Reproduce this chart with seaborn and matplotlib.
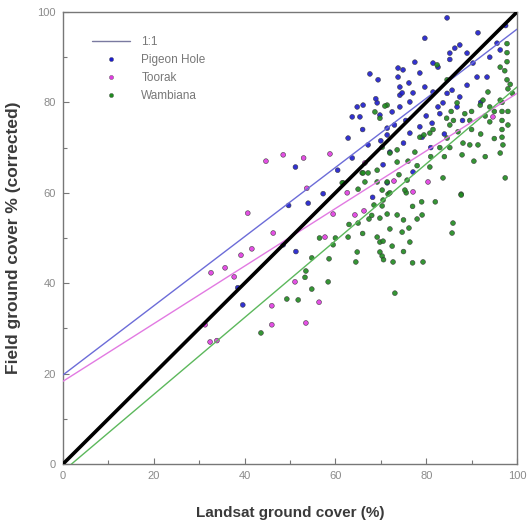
import numpy as np
import pandas as pd
import matplotlib
matplotlib.use("Agg")
import matplotlib.pyplot as plt
import seaborn as sns
from matplotlib.lines import Line2D
from matplotlib.ticker import MultipleLocator

# ---------------- data ----------------
pigeon_x = [39.6, 38.5, 48.5, 51.3, 49.7, 54.0, 57.3, 51.2, 60.5, 63.7, 62.8, 67.2, 63.7, 65.4,
            64.8, 66.1, 69.8, 72.5, 74.2, 69.2, 71.4, 71.4, 70.5, 68.2, 71.4, 67.6, 69.4, 73.8,
            73.8, 74.2, 68.9, 74.2, 84.6, 79.7, 91.4, 87.4, 86.3, 85.2, 85.2, 89.0, 95.6, 96.3,
            77.5, 81.5, 82.6, 74.9, 78.6, 76.2, 79.7, 81.5, 77.1, 74.7, 90.3, 91.2, 93.4, 89.0,
            85.7, 84.6, 87.4, 76.4, 83.7, 76.4, 78.6, 79.1, 81.3, 82.6, 86.8, 83.0, 77.1, 80.0,
            75.5, 73.0, 75.0, 81.0, 84.0, 88.0, 92.0, 97.5, 94.0, 72.0, 66.0, 70.0]
pigeon_y = [35.2, 39.0, 48.5, 47.0, 57.2, 57.7, 59.8, 65.7, 65.0, 67.7, 72.1, 70.6, 76.8, 76.8,
            79.0, 79.4, 77.2, 77.9, 79.0, 79.9, 74.3, 72.8, 66.2, 59.0, 62.2, 86.3, 85.0, 87.6,
            85.6, 83.4, 80.8, 81.6, 98.7, 94.2, 95.4, 92.7, 92.0, 90.9, 89.5, 90.9, 93.1, 91.6,
            88.9, 88.7, 87.8, 87.2, 86.5, 84.3, 83.4, 82.3, 82.1, 82.1, 88.7, 85.6, 85.6, 83.8,
            82.7, 82.0, 81.2, 80.1, 79.9, 73.2, 74.6, 72.3, 75.4, 79.0, 79.0, 77.5, 64.6, 77.0,
            76.0, 75.0, 71.0, 70.0, 73.0, 76.0, 80.0, 97.0, 90.0, 69.0, 74.0, 71.5]

toorak_x = [31.3, 32.4, 33.9, 32.6, 35.7, 37.7, 39.2, 41.6, 40.7, 46.3, 44.7, 48.5, 53.0, 58.8,
            46.0, 46.0, 51.1, 56.4, 53.5, 53.7, 57.7, 59.5, 62.6, 64.3, 66.3, 72.9, 77.1, 80.4,
            94.7, 66.5]
toorak_y = [30.8, 27.0, 27.3, 42.3, 43.4, 41.4, 46.2, 47.6, 55.5, 51.1, 67.0, 68.4, 67.7, 68.6,
            35.0, 30.8, 40.3, 35.8, 31.2, 61.0, 50.2, 55.3, 60.0, 55.1, 56.0, 62.6, 60.2, 62.4,
            76.8, 66.6]

wamb_x = [43.6, 49.3, 51.8, 53.5, 53.3, 54.8, 54.8, 58.6, 58.4, 59.5, 62.8, 64.8, 64.5, 65.0,
          67.4, 69.8, 71.4, 73.6, 69.2, 69.8, 70.5, 69.8, 70.3, 70.6, 72.5, 72.7, 73.1, 74.7,
          76.2, 76.4, 78.0, 79.1, 79.3, 85.9, 85.7, 87.7, 75.6, 71.6, 68.5, 70.3, 65.0, 61.7,
          65.9, 66.1, 67.2, 69.2, 66.5, 69.2, 71.4, 70.3, 72.0, 70.5, 61.5,
          71.4, 70.9, 68.7, 69.8, 70.3, 72.0, 73.6, 73.6, 75.8, 75.3, 77.5, 78.6, 79.5, 80.8,
          81.5, 84.6, 85.2, 88.1, 89.6, 91.4, 87.9, 80.8, 83.7, 87.7, 85.2, 86.0, 84.5, 85.5,
          89.6, 88.5, 91.9, 94.0, 92.5, 93.6, 96.3, 96.7, 96.7, 96.7, 96.7, 96.7, 96.9, 96.3,
          97.4, 82.4, 84.6, 86.8,
          97.8, 97.8, 97.8, 97.3, 97.8, 98.0, 96.3, 98.5, 95.0, 93.0, 90.0, 92.0, 87.0, 83.0,
          81.0, 78.0, 76.0, 74.0, 90.0, 94.0, 95.0, 93.0, 98.0, 98.0, 99.0, 90.5, 84.0, 82.0,
          79.0, 77.0, 75.0, 72.0, 63.0, 60.0, 56.5, 66.0, 68.0, 75.0, 77.0]
wamb_y = [29.0, 36.5, 36.3, 42.7, 41.3, 38.7, 45.6, 45.4, 40.3, 48.5, 50.2, 46.9, 44.7, 53.3,
          54.2, 54.4, 55.3, 55.1, 50.2, 49.1, 49.3, 46.9, 46.0, 45.2, 48.2, 44.7, 37.8, 51.3,
          52.2, 49.1, 54.2, 55.1, 44.7, 53.3, 51.1, 59.7, 60.0, 59.7, 57.3, 57.1, 60.8, 62.2,
          64.4, 64.4, 64.4, 65.0, 62.4, 62.4, 62.4, 60.6, 60.0, 58.4, 62.2,
          79.4, 79.2, 77.9, 76.5, 70.1, 68.8, 69.5, 66.8, 62.8, 60.6, 69.0, 72.3, 72.8, 73.2,
          74.0, 72.1, 70.0, 71.0, 70.6, 70.6, 68.4, 65.7, 63.3, 59.5, 75.0, 76.0, 76.5, 78.0,
          76.0, 77.5, 79.4, 75.7, 80.5, 82.3, 80.5, 80.0, 78.0, 76.0, 74.0, 72.3, 70.6, 68.8,
          63.3, 88.3, 85.0, 79.9,
          93.0, 91.0, 89.0, 87.0, 85.0, 83.0, 87.8, 84.0, 78.0, 77.0, 74.0, 73.0, 73.5, 70.0,
          68.0, 66.0, 67.0, 64.0, 78.0, 79.0, 72.0, 68.0, 75.0, 78.0, 82.0, 67.0, 68.0, 58.0,
          58.0, 57.0, 54.0, 52.0, 53.0, 50.0, 50.0, 51.0, 55.0, 47.0, 44.5]

sites = ["Pigeon Hole", "Toorak", "Wambiana"]
site_colors = ["#1c1ccc", "#e03ce0", "#1f8a1f"]
line_colors = ["#6c6cd8", "#e27ae2", "#5cb85c"]
# fitted lines: intercept, slope
fit_intercept = [19.7, 18.3, -1.6]
fit_slope = [0.765, 0.637, 0.85]
line_x = [0, 100]

xlabel = "Landsat ground cover (%)"
ylabel = "Field ground cover % (corrected)"
ticks = [0, 20, 40, 60, 80, 100]

# ---------------- build ----------------
df = pd.DataFrame({
    "x": pigeon_x + toorak_x + wamb_x,
    "y": pigeon_y + toorak_y + wamb_y,
    "site": ["Pigeon Hole"] * len(pigeon_x) + ["Toorak"] * len(toorak_x) + ["Wambiana"] * len(wamb_x),
})

sns.set_style("white")
plt.rcParams["font.family"] = ["Liberation Sans", "DejaVu Sans"]

fig = plt.figure(figsize=(5.28, 5.23), dpi=100)
ax = fig.add_axes([63 / 528, 1 - 464 / 523, (517 - 63) / 528, (464 - 12) / 523])

sns.scatterplot(data=df, x="x", y="y", hue="site", hue_order=sites,
                palette=dict(zip(sites, site_colors)), s=12, linewidth=0.4,
                edgecolor="#333333", alpha=0.9, legend=False, ax=ax, zorder=2)

for a, b, c in zip(fit_intercept, fit_slope, line_colors):
    xs = np.array(line_x, dtype=float)
    sns.lineplot(x=xs, y=a + b * xs, color=c, lw=1.0, ax=ax, zorder=3)

sns.lineplot(x=np.array(line_x), y=np.array(line_x), color="black", lw=2.6, ax=ax, zorder=4)

ax.set_xlim(0, 100)
ax.set_ylim(0, 100)
ax.set_xticks(ticks)
ax.set_yticks(ticks)
ax.xaxis.set_minor_locator(MultipleLocator(10))
ax.yaxis.set_minor_locator(MultipleLocator(10))
ax.tick_params(which="major", direction="in", length=4, width=0.8, color="#777777",
               labelsize=8, labelcolor="#8a8a8a", pad=5)
ax.tick_params(which="minor", direction="in", length=3, width=0.8, color="#777777")
ax.tick_params(bottom=True, left=True, which="both")
for sp in ax.spines.values():
    sp.set_color("#777777")
    sp.set_linewidth(1.0)

ax.set_xlabel(xlabel, fontsize=11, fontweight="bold", color="#3a3a3a", labelpad=18)
ax.set_ylabel(ylabel, fontsize=12.5, fontweight="bold", color="#3a3a3a", labelpad=12)

handles = [Line2D([], [], color="#7a7aa0", lw=1.0)] + [
    Line2D([], [], ls="none", marker="o", ms=3, color=c, markeredgecolor="#555555", markeredgewidth=0.3)
    for c in site_colors]
labels = ["1:1"] + sites
leg = ax.legend(handles, labels, loc="upper left", bbox_to_anchor=(0.04, 0.97), frameon=False,
                fontsize=8.5, handlelength=3.2, labelspacing=0.5, handletextpad=1.0)
for t in leg.get_texts():
    t.set_color("#777777")

fig.savefig("out.png", dpi=100)
